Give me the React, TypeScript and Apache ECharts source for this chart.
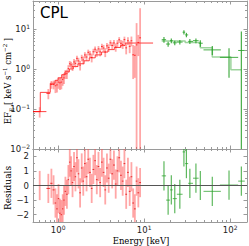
import React, { useEffect, useRef } from 'react';
import * as echarts from 'echarts';

// ---------- data ----------
const redEdges = [0.51, 0.73, 0.81, 0.86, 0.91, 0.95, 0.99, 1.03, 1.07, 1.11,
  1.15, 1.19, 1.24, 1.29, 1.34, 1.39, 1.44, 1.50, 1.56, 1.62,
  1.69, 1.76, 1.84, 1.92, 2.00, 2.09, 2.19, 2.29, 2.40, 2.51,
  2.63, 2.75, 2.88, 3.01, 3.15, 3.30, 3.45, 3.61, 3.78, 3.96,
  4.15, 4.35, 4.56, 4.78, 5.01, 5.25, 5.50, 5.76, 6.04, 6.33,
  6.63, 6.95, 7.28, 7.62, 7.98, 8.36, 8.76, 9.20];
const redVal = [0.086, 0.245, 0.41, 0.41, 0.38, 0.40, 0.47, 0.45, 0.47, 0.55,
  0.60, 0.75, 0.76, 1.02, 1.35, 1.27, 1.14, 1.50, 1.38, 1.84,
  1.59, 1.25, 1.91, 1.68, 2.24, 1.99, 2.61, 2.35, 1.94, 2.69,
  3.12, 2.56, 3.18, 2.67, 3.64, 3.34, 2.65, 3.79, 3.41, 4.50,
  3.87, 4.47, 3.53, 4.41, 5.36, 4.39, 4.12, 5.42, 3.37, 5.07,
  3.68, 5.07, 2.26, 2.2, 4.0, 4.6, 6.0];
const redErr = [0.025, 0.07, 0.09, 0.10, 0.13, 0.14, 0.15, 0.15, 0.16, 0.17,
  0.18, 0.19, 0.20, 0.22, 0.23, 0.24, 0.25, 0.27, 0.28, 0.30,
  0.31, 0.33, 0.35, 0.37, 0.39, 0.41, 0.43, 0.45, 0.48, 0.50,
  0.52, 0.55, 0.57, 0.60, 0.62, 0.65, 0.67, 0.70, 0.72, 0.75,
  0.78, 0.80, 0.83, 0.86, 0.90, 0.93, 0.97, 1.0, 1.05, 1.1,
  1.2, 1.4, 1.7, 1.6, 10, 2.5, 27];
const redRes = [0.0, -0.2, 0.15, -0.3, -1.2, -1.6, -0.9, -1.9, -2.0, -1.6,
  -1.0, -0.4, -0.6, 0.4, 1.6, 1.0, 0.2, 1.3, 0.6, 1.9,
  0.8, -0.5, 1.2, 0.3, 1.5, 0.6, 1.8, 0.9, -0.2, 1.1,
  1.7, 0.4, 1.3, 0.2, 1.6, 0.9, -0.3, 1.2, 0.5, 1.8,
  0.8, 1.4, 0.1, 1.0, 1.9, 0.7, 0.3, 1.5, -0.6, 0.9,
  -0.4, 0.6, -1.2, -1.6, 0.3, -0.5, 0.2];
const redModelEdges = [0.51, 0.62, 0.81, 0.92, 1.0, 1.1, 1.2, 1.35, 1.5, 1.7, 2.0, 2.3, 2.7, 3.2, 3.8, 4.5, 5.3, 6.0, 12.7];
const redModelVal = [0.086, 0.26, 0.44, 0.52, 0.6, 0.72, 0.85, 1.0, 1.15, 1.35, 1.6, 1.9, 2.25, 2.65, 3.05, 3.45, 3.85, 4.45];

const greenE = [17.0, 19.0, 20.7, 22.7, 26.0, 29.0, 31.0, 34.0, 40.0, 45.0, 62.0, 97.0, 135.0];
const greenLo = [16.0, 18.0, 20.0, 21.5, 24.0, 28.0, 30.0, 32.5, 37.0, 43.0, 49.0, 76.0, 124.0];
const greenHi = [18.0, 20.0, 21.5, 24.0, 28.0, 30.0, 32.5, 37.0, 43.0, 48.0, 78.0, 124.0, 148.0];
const greenVal = [5.4, 4.2, 5.1, 4.5, 4.7, 8.3, 7.1, 4.9, 5.1, 4.4, 3.0, 1.95, 2.9];
const greenErr = [0.9, 0.6, 0.7, 0.6, 0.6, 1.0, 0.9, 0.7, 0.7, 0.8, 0.75, 1.35, 5.7];
const greenRes = [0.66, -1.0, -0.3, -0.9, -0.6, 2.3, 1.5, 0.15, 0.5, 0.0, -0.4, 0.03, 0.3];
const greenModelEdges = [16, 30, 45, 62, 102, 135];
const greenModelVal = [5.0, 4.6, 3.4, 2.0, 0.95];

const xMajorTicks = [1, 10, 100];
const xMinorTicks = [0.6, 0.7, 0.8, 0.9, 2, 3, 4, 5, 6, 7, 8, 9, 20, 30, 40, 50, 60, 70, 80, 90];
const yMajorTicks = [0.01, 0.1, 1, 10];
const yMinorTicks = [0.02, 0.03, 0.04, 0.05, 0.06, 0.07, 0.08, 0.09,
  0.2, 0.3, 0.4, 0.5, 0.6, 0.7, 0.8, 0.9, 2, 3, 4, 5, 6, 7, 8, 9, 20, 30, 40];
const resMajorTicks = [-2, -1, 0, 1, 2];
const resMinorTicks = [-1.5, -0.5, 0.5, 1.5];

// ---------- layout / style ----------
const X_MIN = 0.51, X_MAX = 157;
const Y_MIN = 0.01, Y_MAX = 50;
const R_MIN = -2.5, R_MAX = 2.5;
const AXIS_COLOR = '#9a9a9a';
const SANS = 'DejaVu Sans';
const SERIF = 'DejaVu Serif';
const LABEL_COLOR = '#222';

const supRich = {
  b: { fontSize: 8.5, fontFamily: SANS, color: LABEL_COLOR, lineHeight: 11 },
  s: { fontSize: 6, fontFamily: SANS, color: LABEL_COLOR, lineHeight: 5, verticalAlign: 'top' },
};

function powLabel(v: number) {
  const l = Math.log10(v);
  const e = Math.round(l);
  if (Math.abs(l - e) > 1e-6) return '';
  return `{b|10}{s|${e < 0 ? '\u2212' + -e : e}}`;
}
function resLabel(v: number) {
  const r = Math.round(v);
  return r < 0 ? '\u2212' + -r : String(r);
}

function xAxis(grid: number, pos: string, ticks: number[], len: number, line: boolean, label: boolean) {
  return {
    type: 'log', logBase: 10, gridIndex: grid, position: pos, min: X_MIN, max: X_MAX,
    axisLine: { show: line, onZero: false, lineStyle: { color: AXIS_COLOR, width: 1 } },
    axisTick: { show: true, inside: true, length: len, customValues: ticks, lineStyle: { color: AXIS_COLOR, width: 1 } },
    axisLabel: { show: label, customValues: ticks, margin: 2, formatter: powLabel, rich: supRich },
    splitLine: { show: false },
  };
}
function yLogAxis(pos: string, ticks: number[], len: number, line: boolean, label: boolean) {
  return {
    type: 'log', logBase: 10, gridIndex: 0, position: pos, min: Y_MIN, max: Y_MAX,
    axisLine: { show: line, onZero: false, lineStyle: { color: AXIS_COLOR, width: 1 } },
    axisTick: { show: true, inside: true, length: len, customValues: ticks, lineStyle: { color: AXIS_COLOR, width: 1 } },
    axisLabel: { show: label, customValues: ticks, margin: 3, formatter: powLabel, rich: supRich },
    splitLine: { show: false },
  };
}
function yResAxis(pos: string, ticks: number[], len: number, line: boolean, label: boolean) {
  return {
    type: 'value', gridIndex: 1, position: pos, min: R_MIN, max: R_MAX,
    axisLine: { show: line, onZero: false, lineStyle: { color: AXIS_COLOR, width: 1 } },
    axisTick: { show: true, inside: true, length: len, customValues: ticks, lineStyle: { color: AXIS_COLOR, width: 1 } },
    axisLabel: { show: label, customValues: ticks, margin: 4, formatter: resLabel, fontSize: 8.5, fontFamily: SANS, color: LABEL_COLOR },
    splitLine: { show: false },
  };
}

function makeRender(vColor: string, vWidth: number, hColor: string, hWidth: number) {
  return (params: any, api: any) => {
    const x = api.value(0), lo = api.value(1), hi = api.value(2);
    const y = api.value(3), ylo = api.value(4), yhi = api.value(5);
    const pL = api.coord([lo, y]);
    const pR = api.coord([hi, y]);
    const pT = api.coord([x, yhi]);
    const pB = api.coord([x, ylo]);
    return {
      type: 'group',
      children: [
        { type: 'line', shape: { x1: pT[0], y1: pT[1], x2: pB[0], y2: pB[1] }, style: { stroke: vColor, lineWidth: vWidth } },
        { type: 'line', shape: { x1: pL[0], y1: pL[1], x2: pR[0], y2: pR[1] }, style: { stroke: hColor, lineWidth: hWidth } },
      ],
    };
  };
}

const clampY = (v: number) => Math.min(Y_MAX, Math.max(Y_MIN, v));
const clampR = (v: number) => Math.min(R_MAX, Math.max(R_MIN, v));

function buildOption() {
  const redData = redVal.map((v, i) => {
    const lo = redEdges[i], hi = redEdges[i + 1];
    return [Math.sqrt(lo * hi), lo, hi, v, clampY(v - redErr[i]), clampY(v + redErr[i])];
  });
  const redResData = redRes.map((r, i) => {
    const lo = redEdges[i], hi = redEdges[i + 1];
    return [Math.sqrt(lo * hi), lo, hi, clampR(r), clampR(r - 1), clampR(r + 1)];
  });
  const greenData = greenVal.map((v, i) => [greenE[i], greenLo[i], greenHi[i], v, clampY(v - greenErr[i]), clampY(v + greenErr[i])]);
  const greenResData = greenRes.map((r, i) => [greenE[i], greenLo[i], greenHi[i], clampR(r), clampR(r - 1), clampR(r + 1)]);
  const redModel = redModelEdges.map((e, i) => [e, redModelVal[Math.min(i, redModelVal.length - 1)]]);
  const greenModel = greenModelEdges.map((e, i) => [e, greenModelVal[Math.min(i, greenModelVal.length - 1)]]);

  const enc = { x: [0, 1, 2], y: [3, 4, 5] };

  return {
    animation: false,
    grid: [
      { left: 33, top: 1, width: 214, height: 148 },
      { left: 33, top: 149, width: 214, height: 73 },
    ],
    xAxis: [
      xAxis(0, 'bottom', xMajorTicks, 3.5, true, false),
      xAxis(0, 'bottom', xMinorTicks, 2, false, false),
      xAxis(0, 'top', xMajorTicks, 3.5, true, false),
      xAxis(0, 'top', xMinorTicks, 2, false, false),
      xAxis(1, 'bottom', xMajorTicks, 3.5, true, true),
      xAxis(1, 'bottom', xMinorTicks, 2, false, false),
      xAxis(1, 'top', xMajorTicks, 3.5, true, false),
      xAxis(1, 'top', xMinorTicks, 2, false, false),
    ],
    yAxis: [
      yLogAxis('left', yMajorTicks, 3.5, true, true),
      yLogAxis('left', yMinorTicks, 2, false, false),
      yLogAxis('right', yMajorTicks, 3.5, true, false),
      yLogAxis('right', yMinorTicks, 2, false, false),
      yResAxis('left', resMajorTicks, 3.5, true, true),
      yResAxis('left', resMinorTicks, 2, false, false),
      yResAxis('right', resMajorTicks, 3.5, true, false),
      yResAxis('right', resMinorTicks, 2, false, false),
    ],
    graphic: [
      { type: 'text', x: 40, y: 12.8, style: { text: 'CPL', fontSize: 15, fontFamily: SANS, fill: '#000', align: 'left', verticalAlign: 'middle' } },
      {
        type: 'text', x: 8, y: 81, rotation: Math.PI / 2,
        style: {
          text: '{n|EF}{sub|E}{n| [ keV s}{sup|\u22121}{n| cm}{sup|\u22122}{n| ]}',
          align: 'center', verticalAlign: 'middle',
          rich: {
            n: { fontSize: 8.5, fontFamily: SERIF, fill: '#000', lineHeight: 12 },
            sub: { fontSize: 6, fontFamily: SERIF, fill: '#000', lineHeight: 6, verticalAlign: 'bottom' },
            sup: { fontSize: 5.5, fontFamily: SERIF, fill: '#000', lineHeight: 5, verticalAlign: 'top' },
          },
        },
      },
      { type: 'text', x: 8, y: 188, rotation: Math.PI / 2, style: { text: 'Residuals', fontSize: 9, fontFamily: SERIF, fill: '#000', align: 'center', verticalAlign: 'middle' } },
      { type: 'text', x: 141, y: 241, style: { text: 'Energy [keV]', fontSize: 8.5, fontFamily: SERIF, fill: '#000', align: 'center', verticalAlign: 'middle' } },
    ],
    series: [
      {
        type: 'line', xAxisIndex: 0, yAxisIndex: 0, step: 'end', data: redModel, showSymbol: false, symbol: 'none',
        lineStyle: { color: 'rgba(255,0,0,0.75)', width: 1 }, z: 3,
      },
      {
        type: 'custom', xAxisIndex: 0, yAxisIndex: 0, data: redData, encode: enc, z: 4,
        renderItem: makeRender('rgba(255,60,60,0.45)', 1.8, 'rgba(255,0,0,0.75)', 1),
      },
      {
        type: 'line', xAxisIndex: 0, yAxisIndex: 0, step: 'end', data: greenModel, showSymbol: false, symbol: 'none',
        lineStyle: { color: 'rgba(60,170,60,0.5)', width: 1.5 }, z: 3,
      },
      {
        type: 'custom', xAxisIndex: 0, yAxisIndex: 0, data: greenData, encode: enc, z: 4,
        renderItem: makeRender('rgba(40,160,40,0.85)', 1.2, 'rgba(40,160,40,0.85)', 1),
      },
      {
        type: 'custom', xAxisIndex: 4, yAxisIndex: 4, data: redResData, encode: enc, z: 4,
        renderItem: makeRender('rgba(255,80,80,0.5)', 1.8, 'rgba(220,0,0,0.75)', 1),
      },
      {
        type: 'custom', xAxisIndex: 4, yAxisIndex: 4, data: greenResData, encode: enc, z: 4,
        renderItem: makeRender('rgba(40,160,40,0.75)', 1.2, 'rgba(40,160,40,0.75)', 1),
      },
      {
        type: 'line', xAxisIndex: 4, yAxisIndex: 4, data: [[X_MIN, 0], [X_MAX, 0]], showSymbol: false, symbol: 'none',
        lineStyle: { color: '#555', width: 1 }, z: 6,
      },
    ],
  };
}

export default function App() {
  const ref = useRef<HTMLDivElement>(null);
  useEffect(() => {
    if (!ref.current) return;
    const chart = echarts.init(ref.current, undefined, { renderer: 'svg' });
    chart.setOption(buildOption() as any);
    return () => chart.dispose();
  }, []);
  return <div ref={ref} style={{ position: 'absolute', left: 0, top: 0, width: 249, height: 246, background: '#fff' }} />;
}
